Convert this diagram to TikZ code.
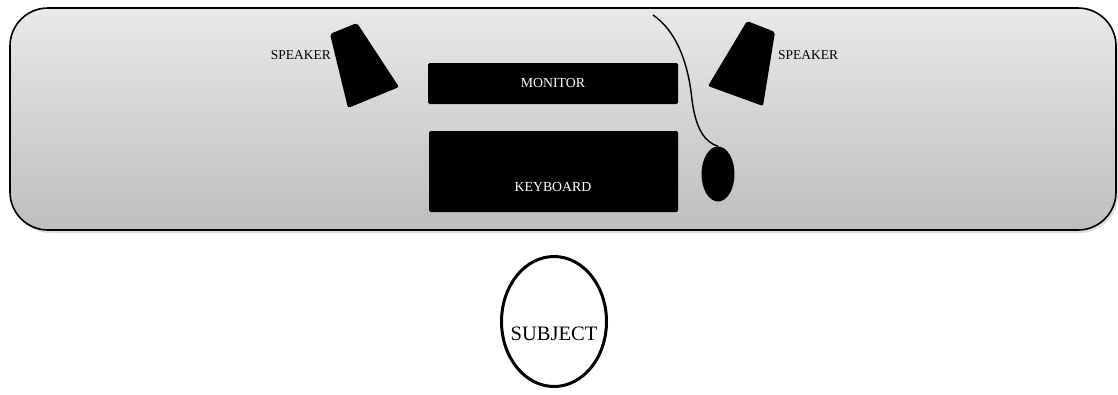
\documentclass[tikz,border=0pt]{standalone}
\usepackage{fontspec}
\setmainfont{Liberation Serif}
\usetikzlibrary{shadows,shapes.geometric}
\definecolor{desktop}{HTML}{E9E9E9}
\definecolor{deskbottom}{HTML}{BEBEBE}
\tikzset{
  desk/.style={draw=black, line width=1.6pt, rounded corners=38pt,
    top color=desktop, bottom color=deskbottom,
    drop shadow={shadow xshift=2pt, shadow yshift=-3pt, opacity=0.25}},
  device/.style={fill=black, rounded corners=1.5pt},
  devlabel/.style={text=white, font=\fontsize{13.8}{15}\selectfont, inner sep=0pt},
  spklabel/.style={font=\fontsize{13.5}{15}\selectfont, inner sep=0pt},
  speakerbox/.style={fill=black, rounded corners=2pt},
  cable/.style={line width=1.4pt},
  person/.style={draw=black, line width=3pt},
}
\begin{document}
\begin{tikzpicture}[x=1pt,y=-1pt]
\useasboundingbox (0,0) rectangle (1118,394);

% desk surface
\path[desk] (10,8) rectangle (1116,230);

% monitor and keyboard
\path[device] (428,63) rectangle (678,104);
\node[devlabel] (monitor) at (553,82.5) {MONITOR};
\path[device] (429,131) rectangle (678,212);
\node[devlabel] (keyboard) at (553,187) {KEYBOARD};

% speakers
\path[speakerbox] (330,34) -- (357,23) -- (399,87) -- (348,108) -- cycle;
\node[spklabel, anchor=east] (lspk) at (331,55) {SPEAKER};
\path[speakerbox] (747,21) -- (775,32) -- (763,106) -- (708,86) -- cycle;
\node[spklabel, anchor=west] (rspk) at (778,55) {SPEAKER};

% mouse and its cable
\node[ellipse, fill=black, minimum width=33pt, minimum height=55pt, inner sep=0pt] (mouse) at (718,174) {};
\coordinate (plug) at (653,15);
\draw[cable] (plug) .. controls (675,30) and (688,60) .. (692,100)
  .. controls (696,130) and (705,142) .. (mouse.north);

% subject seated at the desk
\draw[person] (554,321.5) ellipse [x radius=52.5pt, y radius=65pt];
\node[font=\fontsize{20.5}{22}\selectfont, inner sep=0pt] (subject) at (554,334) {SUBJECT};
\end{tikzpicture}
\end{document}
